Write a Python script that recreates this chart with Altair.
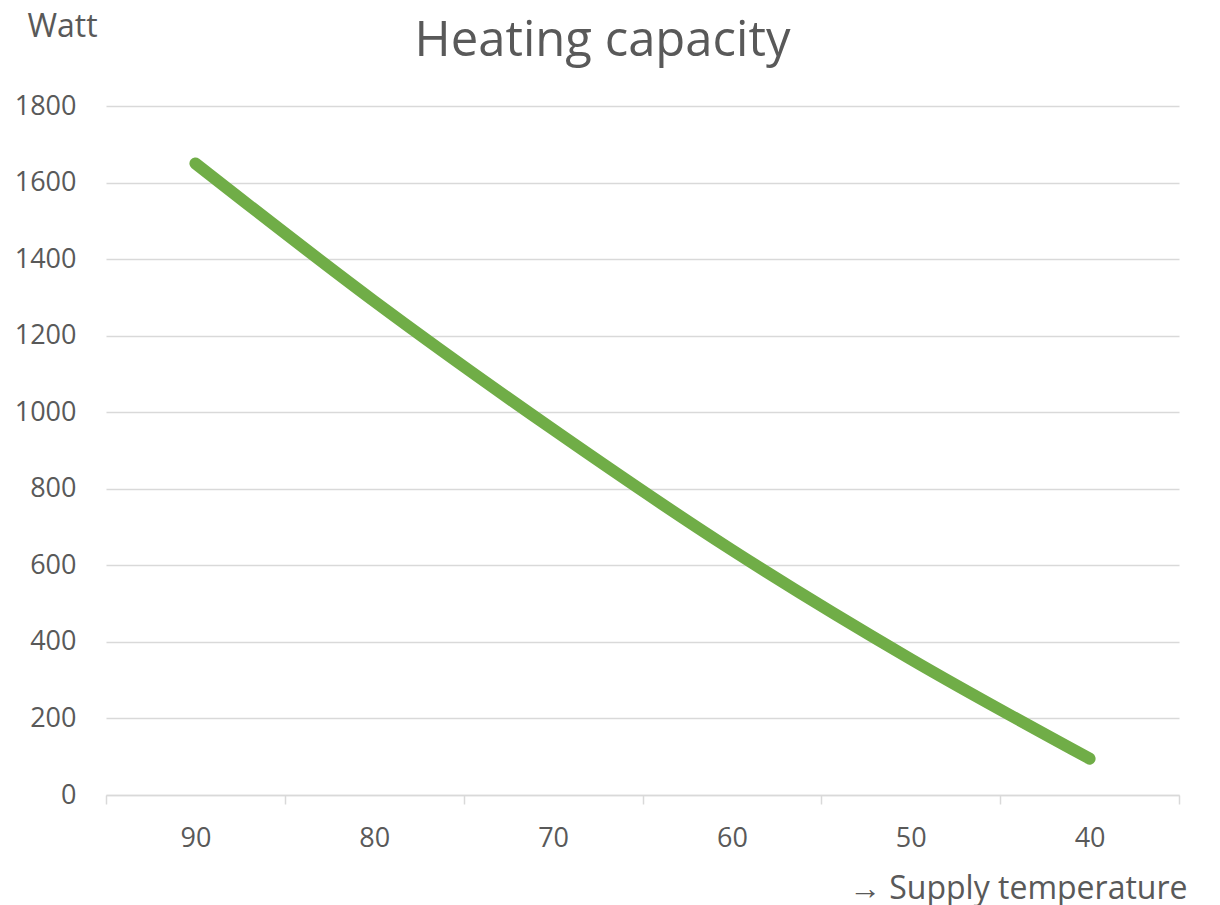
import altair as alt
import pandas as pd

# Data
supply_temperature = [90, 80, 70, 60, 50, 40]
heating_capacity_watt = [1650, 1290, 955, 640, 355, 95]

x_label_values = [95, 90, 85, 80, 75, 70, 65, 60, 55, 50, 45, 40, 35]
y_tick_values = [0, 200, 400, 600, 800, 1000, 1200, 1400, 1600, 1800]

df = pd.DataFrame({"temp": supply_temperature, "watt": heating_capacity_watt})

FONT = "Open Sans"
TEXT = "#595959"
GRID = "#D9D9D9"

chart = (
    alt.Chart(df)
    .mark_line(color="#70AD47", strokeWidth=12, strokeCap="round", strokeJoin="round",
               interpolate="monotone")
    .encode(
        x=alt.X(
            "temp:Q",
            scale=alt.Scale(domain=[35, 95], reverse=True, nice=False, zero=False),
            axis=alt.Axis(
                values=x_label_values,
                labelExpr="datum.value % 10 == 0 ? datum.label : ''",
                tickOpacity={"condition": {"test": "datum.value % 10 == 5", "value": 1}, "value": 0},
                grid=False,
                domainColor=GRID,
                domainWidth=1.5,
                tickColor=GRID,
                tickWidth=1.5,
                tickSize=9,
                labelPadding=21,
                labelFontSize=27,
                labelColor=TEXT,
                labelFont=FONT,
                labelOverlap=False,
                labelFlush=False,
                title="→ Supply temperature",
                titleFont=FONT,
                titleFontSize=32,
                titleFontWeight="normal",
                titleColor=TEXT,
                titleAlign="right",
                titleBaseline="alphabetic",
                titleX=1081,
                titleY=103,
            ),
        ),
        y=alt.Y(
            "watt:Q",
            scale=alt.Scale(domain=[0, 1800], nice=False),
            axis=alt.Axis(
                values=y_tick_values,
                format="d",
                grid=True,
                gridColor=GRID,
                gridWidth=1.5,
                domain=False,
                ticks=False,
                labelPadding=30,
                labelFontSize=27,
                labelColor=TEXT,
                labelFont=FONT,
                title="Watt",
                titleFont=FONT,
                titleFontSize=32,
                titleFontWeight="normal",
                titleColor=TEXT,
                titleAngle=0,
                titleAlign="center",
                titleBaseline="alphabetic",
                titleX=-44,
                titleY=-70,
            ),
        ),
    )
    .properties(
        width=1073,
        height=689,
        title=alt.TitleParams(
            "Heating capacity",
            font=FONT,
            fontSize=49,
            fontWeight="normal",
            color=TEXT,
            anchor="middle",
            baseline="alphabetic",
            offset=-95,
            dx=-40,
        ),
        autosize=alt.AutoSizeParams(type="none"),
        padding={"left": 98, "top": 98, "right": 33, "bottom": 115},
    )
    .configure(background="white")
    .configure_view(stroke=None, strokeWidth=0)
)

chart.save("out.html", embed_options={"renderer": "svg", "actions": False})
